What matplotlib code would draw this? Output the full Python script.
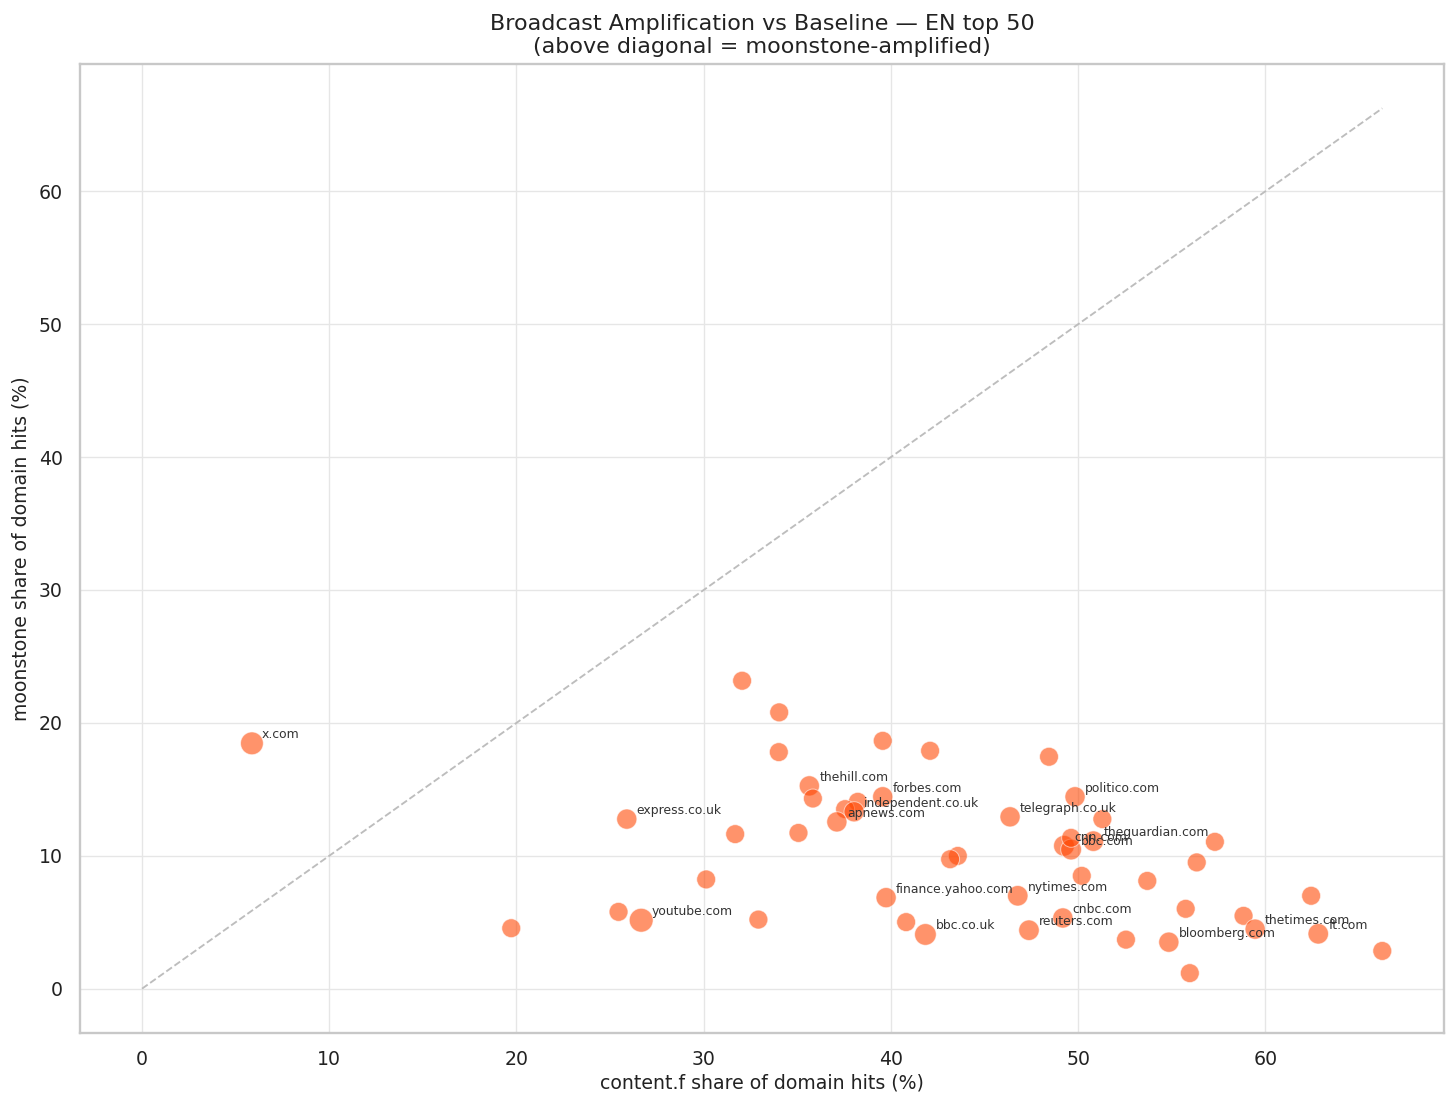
import matplotlib
matplotlib.use("Agg")
import matplotlib.pyplot as plt
import numpy as np

# ---- data ----
domains = [
    "x.com", "", "", "", "", "", "",
    "thehill.com", "", "forbes.com", "", "", "independent.co.uk", "apnews.com",
    "express.co.uk", "", "", "telegraph.co.uk", "politico.com", "",
    "cnn.com", "bbc.com", "", "theguardian.com", "", "", "", "", "", "",
    "finance.yahoo.com", "", "bbc.co.uk", "nytimes.com", "reuters.com", "cnbc.com",
    "", "bloomberg.com", "", "", "", "thetimes.com", "", "ft.com", "",
    "", "youtube.com", "", "", "",
]
content_share = [
    5.87, 32.05, 34.03, 34.01, 39.56, 42.09, 48.44,
    35.64, 35.83, 39.56, 38.23, 37.55, 38.03, 37.11,
    25.89, 31.68, 35.06, 46.36, 49.83, 51.29,
    49.24, 49.62, 49.62, 50.81, 57.30, 56.33, 43.57, 43.16, 50.19, 53.69,
    39.74, 40.81, 41.84, 46.77, 47.37, 49.18,
    52.55, 54.84, 55.74, 55.96, 58.83, 59.45, 62.44, 62.82, 66.24,
    25.45, 26.66, 32.92, 19.72, 30.13,
]
moonstone_share = [
    18.46, 23.17, 20.79, 17.80, 18.65, 17.90, 17.45,
    15.26, 14.31, 14.44, 14.06, 13.51, 13.31, 12.55,
    12.76, 11.63, 11.72, 12.93, 14.44, 12.76,
    10.75, 10.47, 11.35, 11.10, 11.05, 9.50, 9.99, 9.74, 8.49, 8.11,
    6.85, 5.01, 4.08, 6.99, 4.40, 5.32,
    3.69, 3.50, 6.01, 1.17, 5.48, 4.48, 6.99, 4.13, 2.84,
    5.78, 5.15, 5.20, 4.55, 8.22,
]
hits = [
    80, 15, 15, 15, 15, 15, 15,
    35, 15, 35, 15, 15, 35, 35,
    35, 15, 15, 35, 35, 15,
    45, 45, 15, 40, 15, 15, 15, 15, 15, 15,
    35, 15, 60, 40, 40, 35,
    15, 35, 15, 15, 15, 35, 15, 40, 15,
    15, 100, 15, 15, 15,
]

title = "Broadcast Amplification vs Baseline \u2014 EN top 50\n(above diagonal = moonstone-amplified)"
xlabel = "content.f share of domain hits (%)"
ylabel = "moonstone share of domain hits (%)"

# ---- figure ----
W, H, DPI = 1456, 1107, 100
fig = plt.figure(figsize=(W / DPI, H / DPI), dpi=DPI)
ax = fig.add_axes([80 / W, 1 - 1032.7 / H, (1444.3 - 80) / W, (1032.7 - 64.3) / H])

x = np.array(content_share)
y = np.array(moonstone_share)
h = np.array(hits, dtype=float)
sizes = 185 + (h - h.min()) / (h.max() - h.min()) * (295 - 185)

ax.set_axisbelow(True)
ax.grid(True, color="#e6e6e6", linewidth=1.0)

m = max(x.max(), y.max())
ax.plot([0, m], [0, m], linestyle="--", color="#bdbdbd", linewidth=1.35, zorder=1)

ax.scatter(x, y, s=sizes, color="orangered", alpha=0.58, edgecolor="white",
           linewidth=0.7, zorder=3)

for xi, yi, name in zip(x, y, domains):
    if name:
        ax.annotate(name, (xi, yi), xytext=(7.2, 3.6), textcoords="offset points",
                    fontsize=8.9, color="#333333", zorder=4)

ax.margins(0.05)
ax.set_xticks([0, 10, 20, 30, 40, 50, 60])
ax.set_yticks([0, 10, 20, 30, 40, 50, 60])
ax.tick_params(axis="both", length=0, pad=12.5, labelsize=13.6, labelcolor="#222222")

for s in ax.spines.values():
    s.set_color("#c8c8c8")
    s.set_linewidth(1.7)

ax.set_xlabel(xlabel, fontsize=13.6, color="#222222", labelpad=3)
ax.set_ylabel(ylabel, fontsize=13.6, color="#222222", labelpad=6)
ax.set_title(title, fontsize=16, color="#222222", pad=8)

fig.savefig("out.png", dpi=DPI, facecolor="white")
